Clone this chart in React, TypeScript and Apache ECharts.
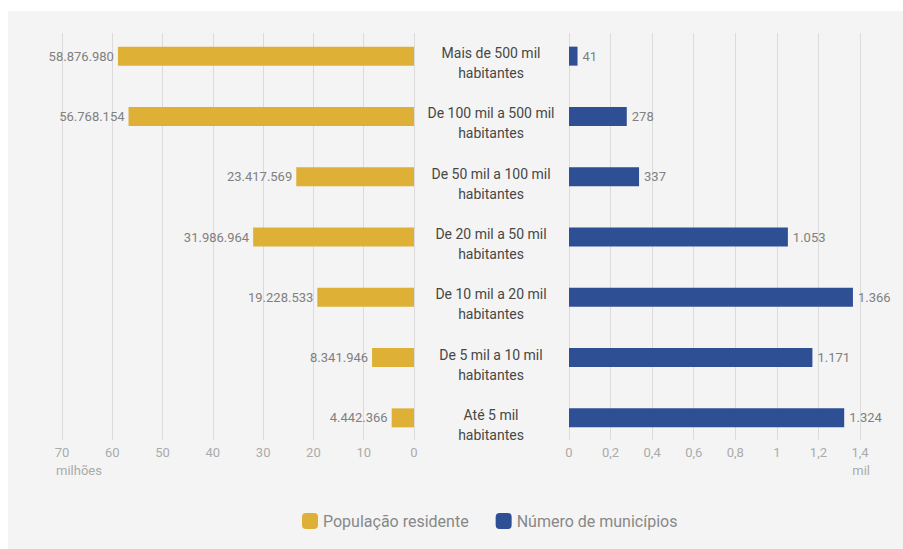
import React, { useEffect, useRef } from "react";
import * as echarts from "echarts";

const categories = [
  "Mais de 500 mil\nhabitantes",
  "De 100 mil a 500 mil\nhabitantes",
  "De 50 mil a 100 mil\nhabitantes",
  "De 20 mil a 50 mil\nhabitantes",
  "De 10 mil a 20 mil\nhabitantes",
  "De 5 mil a 10 mil\nhabitantes",
  "Até 5 mil\nhabitantes",
];
const populacao = [58876980, 56768154, 23417569, 31986964, 19228533, 8341946, 4442366];
const municipios = [41, 278, 337, 1053, 1366, 1171, 1324];
const seriesNames = ["População residente", "Número de municípios"];
const leftUnit = "milhões";
const rightUnit = "mil";

const GOLD = "#DEB036";
const BLUE = "#2E4F93";
const FONT = "Roboto";

const fmtThousands = (v: number) => String(v).replace(/\B(?=(\d{3})+(?!\d))/g, ".");

export default function App() {
  const ref = useRef<HTMLDivElement>(null);
  useEffect(() => {
    if (!ref.current) return;
    const chart = echarts.init(ref.current, undefined, { renderer: "svg" });
    const gridLine = { show: true, lineStyle: { color: "#DCDADA", width: 1 } };
    chart.setOption({
      animation: false,
      backgroundColor: "transparent",
      textStyle: { fontFamily: FONT },
      grid: [
        { left: 62, width: 352, top: 26, height: 422 },
        { left: 569, width: 291, top: 26, height: 422 },
        { left: 62, width: 352, top: 33, height: 407 },
        { left: 569, width: 291, top: 33, height: 407 },
      ],
      xAxis: [
        { gridIndex: 0, type: "value", min: 0, max: 70000000, inverse: true, show: false },
        { gridIndex: 1, type: "value", min: 0, max: 1400, show: false },
        {
          gridIndex: 2, type: "value", min: 0, max: 70000000, interval: 10000000, inverse: true,
          axisLine: { show: false }, axisTick: { show: false }, splitLine: gridLine,
          axisLabel: { margin: 6, color: "#ABABAB", fontSize: 13, fontFamily: FONT, formatter: (v: number) => String(v / 1000000) },
        },
        {
          gridIndex: 3, type: "value", min: 0, max: 1400, interval: 200,
          axisLine: { show: false }, axisTick: { show: false }, splitLine: gridLine,
          axisLabel: { margin: 6, color: "#ABABAB", fontSize: 13, fontFamily: FONT, formatter: (v: number) => String(v / 1000).replace(".", ",") },
        },
      ],
      yAxis: [
        { gridIndex: 0, type: "category", data: categories, inverse: true, show: false },
        {
          gridIndex: 1, type: "category", data: categories, inverse: true, position: "left",
          axisLine: { show: false }, axisTick: { show: false },
          axisLabel: {
            margin: 78, align: "center", color: "#474747", fontSize: 14, fontFamily: FONT,
            formatter: (v: string) => "{s|}\n" + v.split("\n").map((l) => "{a|" + l + "}").join("\n"),
            rich: {
              s: { lineHeight: 14, fontSize: 14, fontFamily: FONT },
              a: { lineHeight: 20, fontSize: 14, color: "#474747", fontFamily: FONT, align: "center" },
            },
          },
        },
        { gridIndex: 2, type: "category", data: [""], show: false },
        { gridIndex: 3, type: "category", data: [""], show: false },
      ],
      legend: {
        left: 297, top: 508, itemWidth: 16, itemHeight: 16, itemGap: 27, icon: "roundRect",
        textStyle: { color: "#888", fontSize: 16, fontFamily: FONT },
        data: seriesNames,
      },
      graphic: [
        { type: "text", left: 56, top: 464, style: { text: leftUnit, fill: "#ABABAB", fontSize: 13, fontFamily: FONT } },
        { type: "text", right: 903 - 870, top: 464, style: { text: rightUnit, fill: "#ABABAB", fontSize: 13, fontFamily: FONT } },
      ],
      series: [
        {
          name: seriesNames[0], type: "bar", xAxisIndex: 0, yAxisIndex: 0, data: populacao,
          barWidth: 19, itemStyle: { color: GOLD },
          label: { show: true, position: "left", distance: 4, color: "#808080", fontSize: 13, fontFamily: FONT, formatter: (p: any) => fmtThousands(p.value) },
        },
        {
          name: seriesNames[1], type: "bar", xAxisIndex: 1, yAxisIndex: 1, data: municipios,
          barWidth: 19, itemStyle: { color: BLUE },
          label: { show: true, position: "right", distance: 5, color: "#808080", fontSize: 13, fontFamily: FONT, formatter: (p: any) => fmtThousands(p.value) },
        },
      ],
    });
    return () => chart.dispose();
  }, []);
  return (
    <div style={{ position: "fixed", left: 0, top: 0, width: 903, height: 549, background: "#fff" }}>
      <div style={{ position: "absolute", left: 8, top: 11, width: 895, height: 538, background: "#F4F4F4" }} />
      <div ref={ref} style={{ position: "absolute", left: 0, top: 0, width: 903, height: 549 }} />
    </div>
  );
}
